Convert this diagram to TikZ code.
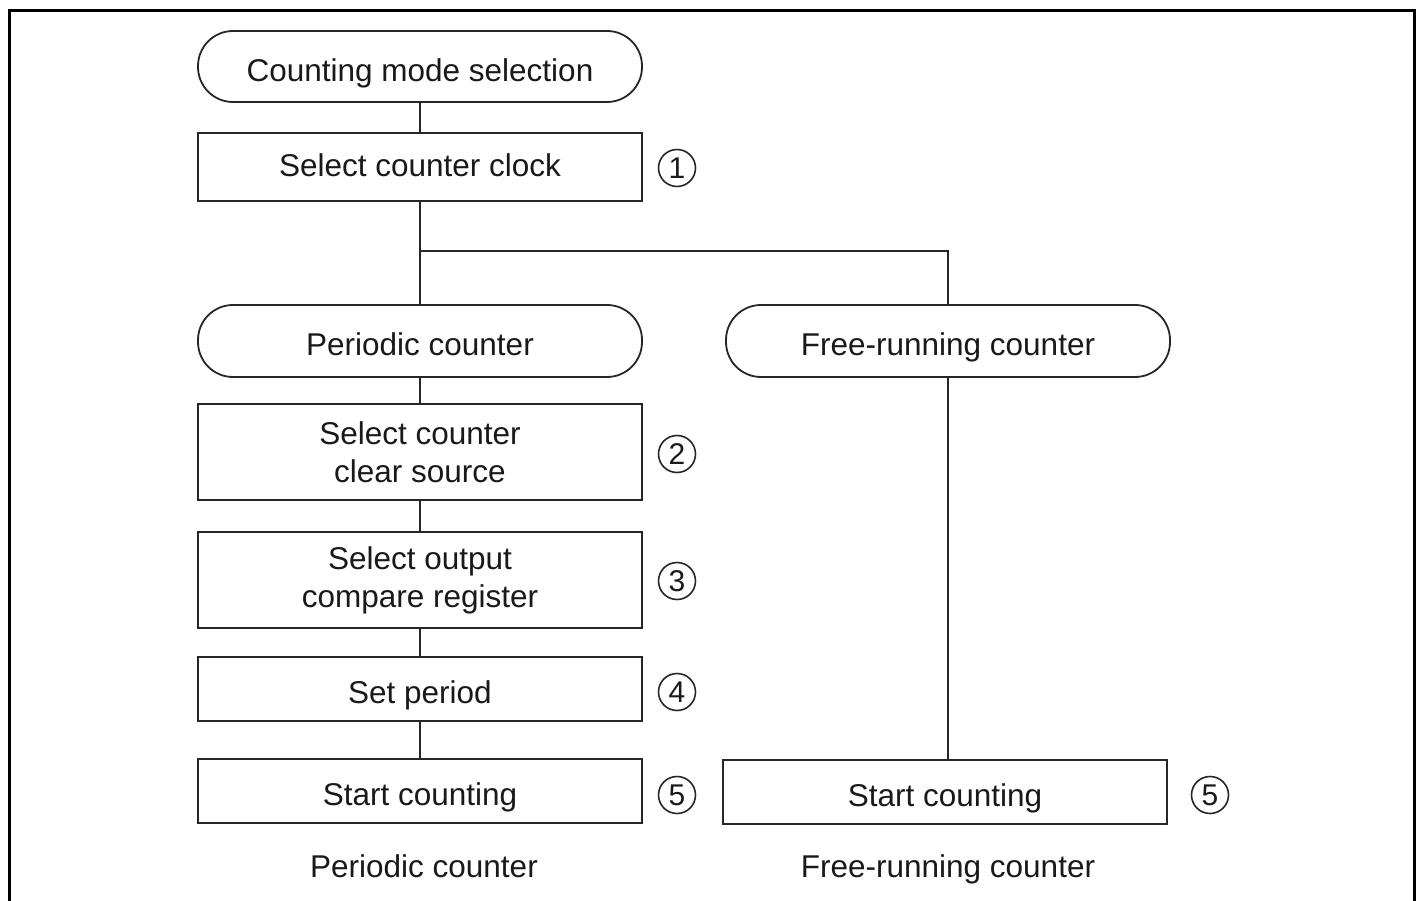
\documentclass[tikz,border=0pt]{standalone}
\usepackage{fontspec}
\setmainfont{Liberation Sans}
\begin{document}
\begin{tikzpicture}[x=1pt,y=-1pt,
  every node/.style={font=\fontsize{31.5}{38}\selectfont,text=black!90},
  box/.style={draw=black!85,line width=1.8pt,rectangle,inner sep=0pt,align=center,minimum width=444pt},
  one/.style={text height=29.6pt,text depth=0pt},
  term/.style={box,one,rounded corners=35pt},
  num/.style={circle,draw=black!85,line width=1.6pt,inner sep=0pt,minimum size=37pt,font=\fontsize{30}{30}\selectfont},
  lbl/.style={one},
  conn/.style={draw=black!85,line width=1.8pt},
  frame/.style={draw=black,line width=3pt}]
\useasboundingbox (0,0) rectangle (1419,901);
\draw[frame] (9,901) -- (9,10.5) -- (1414,10.5) -- (1414,901);

\node[term,minimum height=71pt] (top) at (420,66.5) {Counting mode selection};
\node[box,minimum height=68pt,text height=19pt,text depth=0pt] (b1) at (420,167) {Select counter clock};
\node[term,minimum height=72pt] (per) at (420,341) {Periodic counter};
\node[term,minimum height=72pt] (free) at (948,341) {Free-running counter};
\node[box,minimum height=96pt] (b2) at (420,452) {Select counter\\clear source};
\node[box,minimum height=96pt] (b3) at (420,580) {Select output\\compare register};
\node[box,one,minimum height=64pt] (b4) at (420,689) {Set period};
\node[box,one,minimum height=64pt] (b5) at (420,791) {Start counting};
\node[box,one,minimum height=64pt] (fs) at (945,792) {Start counting};

\node[num] (n1) at (677,168) {1};
\node[num] (n2) at (677,454) {2};
\node[num] (n3) at (677,581) {3};
\node[num] (n4) at (677,692) {4};
\node[num] (n5) at (677,795) {5};
\node[num] (n6) at (1210,795) {5};

\node[lbl] (lp) at (424,863) {Periodic counter};
\node[lbl] (lf) at (948,863) {Free-running counter};

\coordinate (j) at (420,251);
\draw[conn] (top.south) -- (b1.north);
\draw[conn] (b1.south) -- (per.north);
\draw[conn] (j) -| (free.north);
\draw[conn] (free.south) -- (free.south |- fs.north);
\draw[conn] (per.south) -- (b2.north);
\draw[conn] (b2.south) -- (b3.north);
\draw[conn] (b3.south) -- (b4.north);
\draw[conn] (b4.south) -- (b5.north);
\end{tikzpicture}
\end{document}
